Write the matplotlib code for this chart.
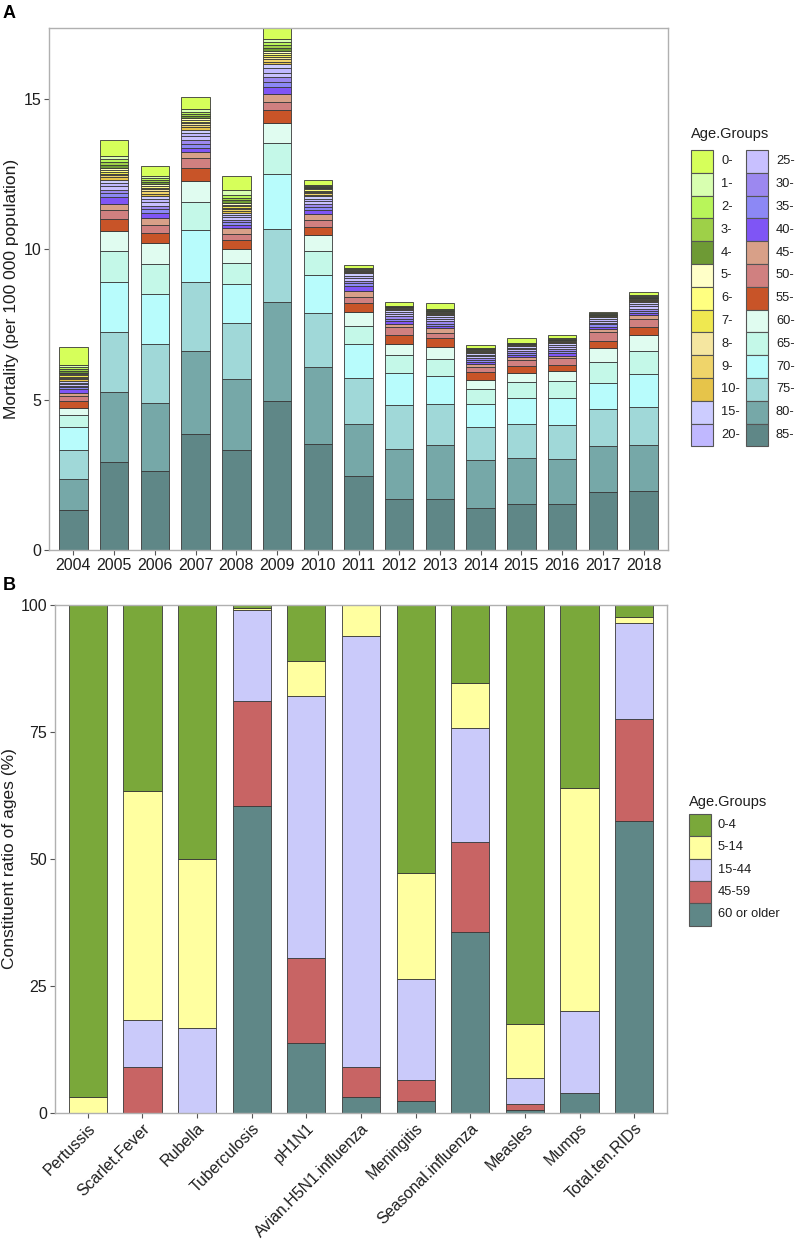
import matplotlib
matplotlib.use("Agg")
import matplotlib.pyplot as plt
from matplotlib.patches import Rectangle
import numpy as np

plt.rcParams['font.family'] = ['Liberation Sans', 'DejaVu Sans']

# ---------------- Panel A data ----------------
years = ['2004', '2005', '2006', '2007', '2008', '2009', '2010', '2011',
         '2012', '2013', '2014', '2015', '2016', '2017', '2018']

age_85 = [1.33, 2.94, 2.64, 3.87, 3.33, 4.96, 3.52, 2.45, 1.70, 1.68, 1.41, 1.54, 1.52, 1.93, 1.95]
age_80 = [1.03, 2.30, 2.26, 2.75, 2.35, 3.30, 2.55, 1.73, 1.67, 1.82, 1.57, 1.53, 1.51, 1.53, 1.53]
age_75 = [0.95, 2.00, 1.96, 2.28, 1.88, 2.41, 1.82, 1.55, 1.45, 1.35, 1.10, 1.13, 1.12, 1.22, 1.28]
age_70 = [0.77, 1.66, 1.66, 1.75, 1.28, 1.83, 1.24, 1.11, 1.08, 0.93, 0.79, 0.86, 0.89, 0.88, 1.08]
age_65 = [0.40, 1.06, 0.98, 0.93, 0.72, 1.02, 0.80, 0.61, 0.60, 0.57, 0.48, 0.54, 0.58, 0.68, 0.78]
age_60 = [0.24, 0.64, 0.70, 0.70, 0.44, 0.68, 0.54, 0.48, 0.36, 0.41, 0.31, 0.30, 0.33, 0.49, 0.53]
age_55 = [0.22, 0.40, 0.34, 0.42, 0.30, 0.42, 0.27, 0.30, 0.29, 0.28, 0.25, 0.22, 0.20, 0.23, 0.26]
age_50 = [0.18, 0.30, 0.28, 0.33, 0.20, 0.28, 0.23, 0.17, 0.26, 0.19, 0.17, 0.20, 0.22, 0.28, 0.27]
age_45 = [0.09, 0.20, 0.22, 0.19, 0.20, 0.27, 0.21, 0.22, 0.11, 0.14, 0.10, 0.09, 0.09, 0.12, 0.12]
age_40 = [0.15, 0.23, 0.16, 0.15, 0.12, 0.23, 0.14, 0.16, 0.09, 0.08, 0.06, 0.07, 0.08, 0.07, 0.07]
age_35 = [0.06, 0.13, 0.13, 0.14, 0.09, 0.17, 0.10, 0.09, 0.08, 0.08, 0.07, 0.07, 0.07, 0.07, 0.08]
age_30 = [0.05, 0.12, 0.12, 0.13, 0.08, 0.16, 0.09, 0.09, 0.08, 0.08, 0.07, 0.06, 0.07, 0.06, 0.08]
age_25 = [0.05, 0.11, 0.11, 0.12, 0.07, 0.15, 0.09, 0.08, 0.07, 0.07, 0.06, 0.06, 0.07, 0.06, 0.08]
age_20 = [0.05, 0.11, 0.10, 0.11, 0.07, 0.14, 0.08, 0.08, 0.07, 0.07, 0.06, 0.06, 0.06, 0.06, 0.08]
age_15 = [0.05, 0.10, 0.10, 0.11, 0.07, 0.13, 0.08, 0.08, 0.07, 0.06, 0.06, 0.05, 0.06, 0.06, 0.07]
age_10 = [0.06, 0.09, 0.09, 0.08, 0.07, 0.09, 0.06, 0.03, 0.02, 0.03, 0.02, 0.02, 0.02, 0.02, 0.03]
age_9 = [0.05, 0.07, 0.08, 0.07, 0.07, 0.08, 0.05, 0.02, 0.02, 0.02, 0.02, 0.01, 0.02, 0.01, 0.02]
age_8 = [0.04, 0.06, 0.06, 0.06, 0.05, 0.07, 0.04, 0.02, 0.02, 0.02, 0.02, 0.01, 0.02, 0.01, 0.02]
age_7 = [0.04, 0.06, 0.06, 0.06, 0.05, 0.07, 0.04, 0.02, 0.01, 0.02, 0.02, 0.01, 0.02, 0.01, 0.02]
age_6 = [0.04, 0.06, 0.06, 0.06, 0.05, 0.07, 0.04, 0.02, 0.02, 0.02, 0.02, 0.01, 0.02, 0.01, 0.02]
age_5 = [0.05, 0.07, 0.06, 0.06, 0.06, 0.08, 0.04, 0.02, 0.02, 0.02, 0.02, 0.01, 0.02, 0.01, 0.02]
age_4 = [0.06, 0.09, 0.07, 0.07, 0.08, 0.09, 0.03, 0.01, 0.01, 0.02, 0.02, 0.01, 0.02, 0.01, 0.02]
age_3 = [0.06, 0.10, 0.07, 0.07, 0.08, 0.10, 0.03, 0.01, 0.01, 0.02, 0.01, 0.01, 0.01, 0.02, 0.03]
age_2 = [0.06, 0.10, 0.06, 0.07, 0.08, 0.10, 0.03, 0.01, 0.01, 0.02, 0.01, 0.01, 0.01, 0.02, 0.02]
age_1 = [0.06, 0.10, 0.06, 0.07, 0.19, 0.10, 0.03, 0.01, 0.01, 0.02, 0.01, 0.02, 0.01, 0.01, 0.02]
age_0 = [0.62, 0.55, 0.35, 0.40, 0.45, 0.36, 0.17, 0.10, 0.13, 0.21, 0.09, 0.16, 0.11, 0.06, 0.11]

age_labels = ['0-', '1-', '2-', '3-', '4-', '5-', '6-', '7-', '8-', '9-', '10-', '15-', '20-',
              '25-', '30-', '35-', '40-', '45-', '50-', '55-', '60-', '65-', '70-', '75-', '80-', '85-']
age_colors = ['#D6FF5A', '#D8FFB0', '#B8F55A', '#9ED048', '#6E9A35', '#FFFFC8', '#FFFF80',
              '#EFE850', '#F5E6A0', '#EFD46A', '#E6C44A', '#CCCCFF', '#C0B8FF',
              '#C8C0FF', '#9C88F0', '#8C88F5', '#7F55F5', '#D8A088', '#D08080', '#C85428',
              '#E0FCF0', '#C4F8E8', '#B8FCFC', '#A0D8D8', '#76A8A8', '#5F8787']
age_series = [age_0, age_1, age_2, age_3, age_4, age_5, age_6, age_7, age_8, age_9, age_10,
              age_15, age_20, age_25, age_30, age_35, age_40, age_45, age_50, age_55,
              age_60, age_65, age_70, age_75, age_80, age_85]

# ---------------- Panel B data ----------------
diseases = ['Pertussis', 'Scarlet.Fever', 'Rubella', 'Tuberculosis', 'pH1N1',
            'Avian.H5N1.influenza', 'Meningitis', 'Seasonal.influenza', 'Measles',
            'Mumps', 'Total.ten.RIDs']
pct_0_4 = [96.9, 36.6, 50.0, 0.6, 11.0, 0.0, 52.8, 15.3, 82.5, 36.0, 2.3]
pct_5_14 = [3.1, 45.1, 33.3, 0.3, 6.9, 6.2, 20.8, 9.0, 10.7, 44.0, 1.3]
pct_15_44 = [0.0, 9.2, 16.7, 18.0, 51.6, 84.7, 19.9, 22.4, 5.1, 16.0, 18.8]
pct_45_59 = [0.0, 9.1, 0.0, 20.7, 16.7, 6.0, 4.2, 17.7, 1.2, 0.0, 20.2]
pct_60_plus = [0.0, 0.0, 0.0, 60.4, 13.8, 3.1, 2.3, 35.6, 0.5, 4.0, 57.4]

grp_labels = ['0-4', '5-14', '15-44', '45-59', '60 or older']
grp_colors = ['#7AA83A', '#FFFFA0', '#CACAFA', '#C86464', '#5F8787']
grp_series = [pct_0_4, pct_5_14, pct_15_44, pct_45_59, pct_60_plus]

# ---------------- Figure ----------------
W, H = 797, 1239
fig = plt.figure(figsize=(W / 100, H / 100), dpi=100)

def fbox(l, t, r, b):
    return [l / W, 1 - b / H, (r - l) / W, (b - t) / H]

EDGE = '#383838'
BORDER = '#B0B0B0'
TXT = '#1E1E1E'
FS = 11.5

def style(ax):
    for s in ax.spines.values():
        s.set_color(BORDER)
        s.set_linewidth(1.0)
    ax.tick_params(axis='both', colors='#555555', labelcolor=TXT,
                   labelsize=FS, length=3.5, width=0.8, pad=2)

# Panel A
axA = fig.add_axes(fbox(49, 28, 668, 550))
xA = np.arange(len(years))
bottom = np.zeros(len(years))
stack_order = list(range(len(age_series)))[::-1]  # 85- at bottom, 0- on top
for i in stack_order:
    v = np.array(age_series[i])
    axA.bar(xA, v, bottom=bottom, width=0.7, color=age_colors[i],
            edgecolor=EDGE, linewidth=0.6)
    bottom = bottom + v
axA.set_xlim(-0.6, len(years) - 0.4)
axA.set_ylim(0, bottom.max())
axA.set_xticks(xA)
axA.set_xticklabels(years)
axA.set_yticks([0, 5, 10, 15])
axA.set_ylabel('Mortality (per 100 000 population)', fontsize=12.5, color=TXT, labelpad=3)
style(axA)

# Panel B
axB = fig.add_axes(fbox(55, 605, 667, 1113))
xB = np.arange(len(diseases))
bottom = np.zeros(len(diseases))
for i in range(len(grp_series))[::-1]:
    v = np.array(grp_series[i])
    axB.bar(xB, v, bottom=bottom, width=0.7, color=grp_colors[i],
            edgecolor=EDGE, linewidth=0.6)
    bottom = bottom + v
axB.set_xlim(-0.6, len(diseases) - 0.4)
axB.set_ylim(0, 100)
axB.set_yticks([0, 25, 50, 75, 100])
axB.set_xticks(xB)
axB.set_xticklabels(diseases, rotation=45, ha='right', rotation_mode='anchor')
axB.set_ylabel('Constituent ratio of ages (%)', fontsize=12.5, color=TXT, labelpad=3)
style(axB)

# Panel tags
fig.text(3 / W, 1 - 13 / H, 'A', fontsize=13, fontweight='bold', va='center', ha='left')
fig.text(3 / W, 1 - 585 / H, 'B', fontsize=13, fontweight='bold', va='center', ha='left')

# Legends (ggplot style keys)
def key(xl, yt, w, h, color):
    fig.patches.append(Rectangle((xl / W, 1 - (yt + h) / H), w / W, h / H,
                                 transform=fig.transFigure, facecolor=color,
                                 edgecolor='#555555', linewidth=0.8))

fig.text(691 / W, 1 - 134 / H, 'Age.Groups', fontsize=10.5, color=TXT, va='center', ha='left')
rowh = 22.8
for k, (lab, col) in enumerate(zip(age_labels, age_colors)):
    c, r = divmod(k, 13)
    xk = 691 + c * 55
    yt = 150 + r * rowh
    key(xk, yt, 22, rowh, col)
    fig.text((xk + 30) / W, 1 - (yt + rowh / 2) / H, lab, fontsize=9.3, color=TXT,
             va='center', ha='left')

fig.text(689 / W, 1 - 802 / H, 'Age.Groups', fontsize=10.5, color=TXT, va='center', ha='left')
rowh = 22.3
for k, (lab, col) in enumerate(zip(grp_labels, grp_colors)):
    yt = 814 + k * rowh
    key(689, yt, 22, rowh, col)
    fig.text(718 / W, 1 - (yt + rowh / 2) / H, lab, fontsize=9.3, color=TXT,
             va='center', ha='left')

fig.savefig('out.png', dpi=100)
